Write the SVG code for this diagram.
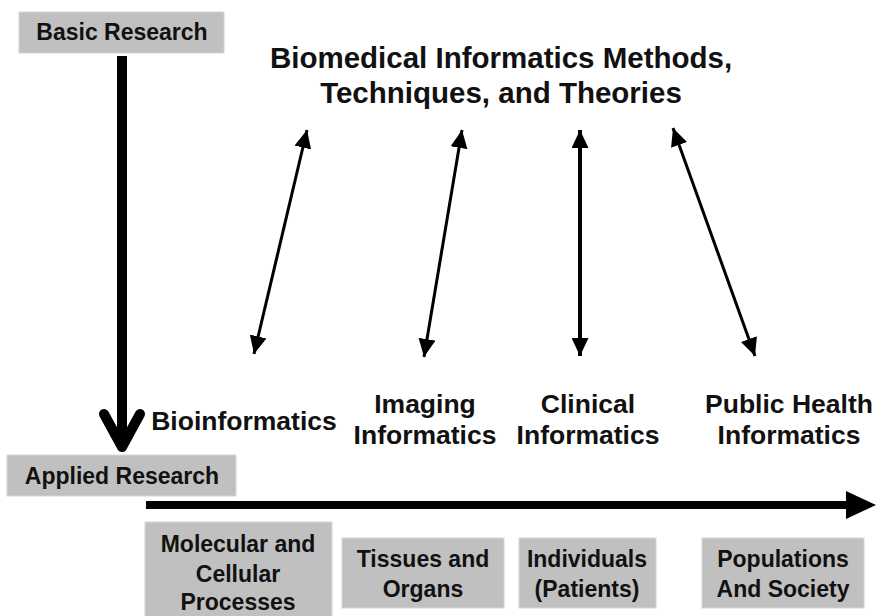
<svg xmlns="http://www.w3.org/2000/svg" width="878" height="616" viewBox="0 0 878 616">
  <style>
    text { font-family: "Liberation Sans", Arial, sans-serif; font-weight: bold; fill: #111; text-anchor: middle; }
    .title { font-size: 29.5px; }
    .label { font-size: 26.5px; }
    .boxtext { font-size: 23px; }
    .box { fill: #c0c0c0; stroke: #d6d6d6; stroke-width: 1; }
    .link { stroke: #000; stroke-width: 3; fill: none; marker-start: url(#tri); marker-end: url(#tri); }
  </style>
  <defs>
    <marker id="tri" markerUnits="userSpaceOnUse" markerWidth="19" markerHeight="17" refX="18" refY="8.5" orient="auto-start-reverse" viewBox="0 0 19 17">
      <path d="M0,0 L18,8.5 L0,17 Z" fill="#000"/>
    </marker>
  </defs>

  <rect width="878" height="616" fill="#fff"/>

  <!-- header text -->
  <g id="title">
    <text class="title" x="501" y="68">Biomedical Informatics Methods,</text>
    <text class="title" x="501" y="103">Techniques, and Theories</text>
  </g>

  <!-- research axis endpoints -->
  <g id="basic-research">
    <rect class="box" x="19" y="12" width="205" height="41"/>
    <text class="boxtext" x="122" y="40">Basic Research</text>
  </g>
  <g id="applied-research">
    <rect class="box" x="7" y="455" width="229" height="41"/>
    <text class="boxtext" x="122" y="484">Applied Research</text>
  </g>

  <!-- informatics areas -->
  <g id="bioinformatics">
    <text class="label" x="244" y="430">Bioinformatics</text>
  </g>
  <g id="imaging-informatics">
    <text class="label" x="425" y="413">Imaging</text>
    <text class="label" x="425" y="444">Informatics</text>
  </g>
  <g id="clinical-informatics">
    <text class="label" x="588" y="413">Clinical</text>
    <text class="label" x="588" y="444">Informatics</text>
  </g>
  <g id="public-health-informatics">
    <text class="label" x="789" y="413">Public Health</text>
    <text class="label" x="789" y="444">Informatics</text>
  </g>

  <!-- levels of biological organisation -->
  <g id="molecular">
    <rect class="box" x="145" y="522" width="187" height="100"/>
    <text class="boxtext" x="238" y="552">Molecular and</text>
    <text class="boxtext" x="238" y="582">Cellular</text>
    <text class="boxtext" x="238" y="610">Processes</text>
  </g>
  <g id="tissues">
    <rect class="box" x="342" y="538" width="162" height="70"/>
    <text class="boxtext" x="423" y="567">Tissues and</text>
    <text class="boxtext" x="423" y="597">Organs</text>
  </g>
  <g id="individuals">
    <rect class="box" x="519" y="538" width="137" height="70"/>
    <text class="boxtext" x="587" y="567">Individuals</text>
    <text class="boxtext" x="587" y="597">(Patients)</text>
  </g>
  <g id="populations">
    <rect class="box" x="702" y="538" width="162" height="70"/>
    <text class="boxtext" x="783" y="567">Populations</text>
    <text class="boxtext" x="783" y="597">And Society</text>
  </g>

  <!-- connectors -->
  <g id="connectors">
    <!-- basic to applied research -->
    <line x1="122" y1="56" x2="122" y2="444" stroke="#000" stroke-width="10"/>
    <path d="M104,414 L122,447 L140,414" fill="none" stroke="#000" stroke-width="10" stroke-linecap="round" stroke-linejoin="round"/>
    <!-- scale of organisation -->
    <line x1="146" y1="505" x2="850" y2="505" stroke="#000" stroke-width="8"/>
    <path d="M846,491 L876,505 L846,519 Z" fill="#000"/>
    <!-- methods to application areas -->
    <line class="link" x1="307" y1="130" x2="254" y2="354"/>
    <line class="link" x1="462" y1="130" x2="424" y2="357"/>
    <line class="link" x1="580" y1="130" x2="580" y2="356" style="stroke-width:4"/>
    <line class="link" x1="673" y1="128" x2="755" y2="356"/>
  </g>
</svg>
